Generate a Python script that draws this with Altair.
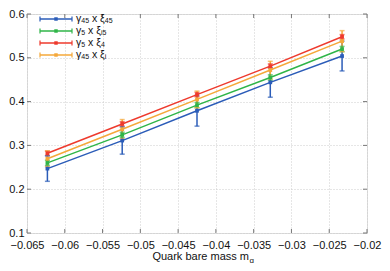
import altair as alt
import pandas as pd

# ---- data ----
mass = [-0.0623, -0.0524, -0.0425, -0.0328, -0.0233]
labels = ["γ45 x ξ45", "γ5 x ξi5", "γ5 x ξ4", "γ45 x ξi"]
# legend label pieces: (gamma subscript, xi subscript)
label_subs = [("45", "45"), ("5", "i5"), ("5", "4"), ("45", "i")]
colors = ["#2b5cb8", "#2fb548", "#ee3a2d", "#f5a83a"]
blue_y = [0.247, 0.311, 0.379, 0.444, 0.504]
blue_e = [0.029, 0.031, 0.035, 0.034, 0.034]
green_y = [0.260, 0.324, 0.392, 0.455, 0.520]
green_e = [0.006, 0.006, 0.006, 0.006, 0.006]
red_y = [0.282, 0.349, 0.416, 0.481, 0.548]
red_e = [0.005, 0.005, 0.005, 0.005, 0.005]
orange_y = [0.2695, 0.337, 0.405, 0.472, 0.538]
orange_e = [0.018, 0.022, 0.019, 0.020, 0.024]
x_ticks = [-0.065, -0.06, -0.055, -0.05, -0.045, -0.04, -0.035, -0.03, -0.025, -0.02]
y_ticks = [0.1, 0.2, 0.3, 0.4, 0.5, 0.6]
x_title = "Quark bare mass m"
x_title_sub = "q"

rows = []
for order, (lab, ys, es) in enumerate(zip(labels, [blue_y, green_y, red_y, orange_y],
                                         [blue_e, green_e, red_e, orange_e])):
    for xv, yv, ev in zip(mass, ys, es):
        rows.append({"series": lab, "order": order, "x": xv, "y": yv,
                     "lo": yv - ev, "hi": yv + ev})
df = pd.DataFrame(rows)

W, H = 340, 219
FONT = "Liberation Sans"
FS, FSS = 10.5, 7

xs = alt.Scale(domain=[-0.065, -0.02], nice=False, zero=False)
ys = alt.Scale(domain=[0.1, 0.6], nice=False, zero=False)
col = alt.Color("series:N", scale=alt.Scale(domain=labels, range=colors),
                sort=labels, legend=None)

xax = alt.Axis(values=x_ticks, title=None, grid=True, gridDash=[1, 2], gridColor="#cccccc",
               tickSize=0, domain=False, labelFont=FONT, labelFontSize=11,
               labelColor="#111", labelPadding=6, format="~g", labelFlush=False,
               labelOverlap=False)
yax = alt.Axis(values=y_ticks, title=None, grid=True, gridDash=[1, 2], gridColor="#cccccc",
               tickSize=0, domain=False, labelFont=FONT, labelFontSize=11,
               labelColor="#111", labelPadding=3, format=".1f", labelOverlap=False)

base = alt.Chart(df)
X = alt.X("x:Q", scale=xs, axis=xax)

lines = base.mark_line(strokeWidth=1.5).encode(
    x=X, y=alt.Y("y:Q", scale=ys, axis=yax),
    color=col, detail="series:N", order="x:Q")
bars = base.mark_rule(strokeWidth=1.5).encode(
    x=X, y=alt.Y("lo:Q", scale=ys, axis=yax), y2="hi:Q", color=col)
cap_lo = base.mark_tick(orient="horizontal", size=5, thickness=1.5).encode(
    x=X, y=alt.Y("lo:Q", scale=ys, axis=yax), color=col)
cap_hi = base.mark_tick(orient="horizontal", size=5, thickness=1.5).encode(
    x=X, y=alt.Y("hi:Q", scale=ys, axis=yax), color=col)
pts = base.mark_square(size=14, opacity=1, filled=True).encode(
    x=X, y=alt.Y("y:Q", scale=ys, axis=yax), color=col)

# inward ticks on all four sides
tdx = pd.DataFrame({"t": x_ticks})
tdy = pd.DataFrame({"t": y_ticks})
tick_b = alt.Chart(tdx).mark_rule(color="#777", strokeWidth=1).encode(
    x=alt.X("t:Q", scale=xs, axis=xax), y=alt.value(H), y2=alt.value(H - 4))
tick_t = alt.Chart(tdx).mark_rule(color="#777", strokeWidth=1).encode(
    x=alt.X("t:Q", scale=xs, axis=xax), y=alt.value(0), y2=alt.value(4))
tick_l = alt.Chart(tdy).mark_rule(color="#777", strokeWidth=1).encode(
    y=alt.Y("t:Q", scale=ys, axis=yax), x=alt.value(0), x2=alt.value(4))
tick_r = alt.Chart(tdy).mark_rule(color="#777", strokeWidth=1).encode(
    y=alt.Y("t:Q", scale=ys, axis=yax), x=alt.value(W), x2=alt.value(W - 4))

# manual legend (line with end ticks and marker, then label)
LX0, LX1, LY, LSTEP = 13, 45, 5, 12
leg = alt.Chart(pd.DataFrame({"series": labels, "i": list(range(len(labels)))})).transform_calculate(
    py=f"{LY} + {LSTEP} * datum.i", py0=f"{LY} + {LSTEP} * datum.i - 2.5",
    py1=f"{LY} + {LSTEP} * datum.i + 2.5")
leg_line = leg.mark_rule(strokeWidth=1.5).encode(
    x=alt.value(LX0), x2=alt.value(LX1), y=alt.Y("py:Q", scale=None), color=col)
leg_t0 = leg.mark_rule(strokeWidth=1.2).encode(
    x=alt.value(LX0), y=alt.Y("py0:Q", scale=None), y2="py1:Q", color=col)
leg_t1 = leg.mark_rule(strokeWidth=1.2).encode(
    x=alt.value(LX1), y=alt.Y("py0:Q", scale=None), y2="py1:Q", color=col)
leg_pt = leg.mark_square(size=12, opacity=1, filled=True).encode(
    x=alt.value((LX0 + LX1) / 2), y=alt.Y("py:Q", scale=None), color=col)

# label pieces laid out with Arial/Liberation advance widths (per 1000 em)
ADV = {"γ": 500, "ξ": 450, " ": 278, "x": 500, "i": 222, "4": 556, "5": 556}
def w(s, fs):
    return sum(ADV.get(c, 556) for c in s) * fs / 1000.0
pieces = []
for i, (gs, xs_) in enumerate(label_subs):
    dx = 0.0
    pieces.append({"i": i, "t": "γ", "dx": dx, "sub": 0}); dx += w("γ", FS)
    pieces.append({"i": i, "t": gs, "dx": dx, "sub": 1}); dx += w(gs, FSS) + w(" ", FS)
    pieces.append({"i": i, "t": "x ξ", "dx": dx, "sub": 0}); dx += w("x ξ", FS)
    pieces.append({"i": i, "t": xs_, "dx": dx, "sub": 1})
pdf = pd.DataFrame(pieces)
TX = LX1 + 4
ptxt = alt.Chart(pdf).transform_calculate(
    px=f"{TX} + datum.dx",
    py=f"{LY} + {LSTEP} * datum.i + (datum.sub ? 2.2 : 0)")
leg_main = ptxt.transform_filter("datum.sub == 0").mark_text(
    font=FONT, fontSize=FS, align="left", baseline="middle", color="#111").encode(
    x=alt.X("px:Q", scale=None), y=alt.Y("py:Q", scale=None), text="t:N")
leg_sub = ptxt.transform_filter("datum.sub == 1").mark_text(
    font=FONT, fontSize=FSS, align="left", baseline="middle", color="#111").encode(
    x=alt.X("px:Q", scale=None), y=alt.Y("py:Q", scale=None), text="t:N")

title_main = alt.Chart(pd.DataFrame({"s": [x_title]})).mark_text(
    font=FONT, fontSize=11, align="right", baseline="alphabetic", color="#111").encode(
    text="s:N", x=alt.value(W / 2 + 52), y=alt.value(H + 27))
title_sub = alt.Chart(pd.DataFrame({"s": [x_title_sub]})).mark_text(
    font=FONT, fontSize=8, align="left", baseline="alphabetic", color="#111").encode(
    text="s:N", x=alt.value(W / 2 + 52.5), y=alt.value(H + 29.5))

chart = alt.layer(tick_b, tick_t, tick_l, tick_r, bars, cap_lo, cap_hi, lines, pts,
                  leg_line, leg_t0, leg_t1, leg_pt, leg_main, leg_sub,
                  title_main, title_sub).properties(
    width=W, height=H,
    autosize=alt.AutoSizeParams(type="none"),
    padding={"left": 19, "top": 6, "right": 15, "bottom": 30},
).configure_view(stroke="#777", strokeWidth=1.5).configure(background="white")

chart.save("out.html", embed_options={"renderer": "svg", "actions": False})
